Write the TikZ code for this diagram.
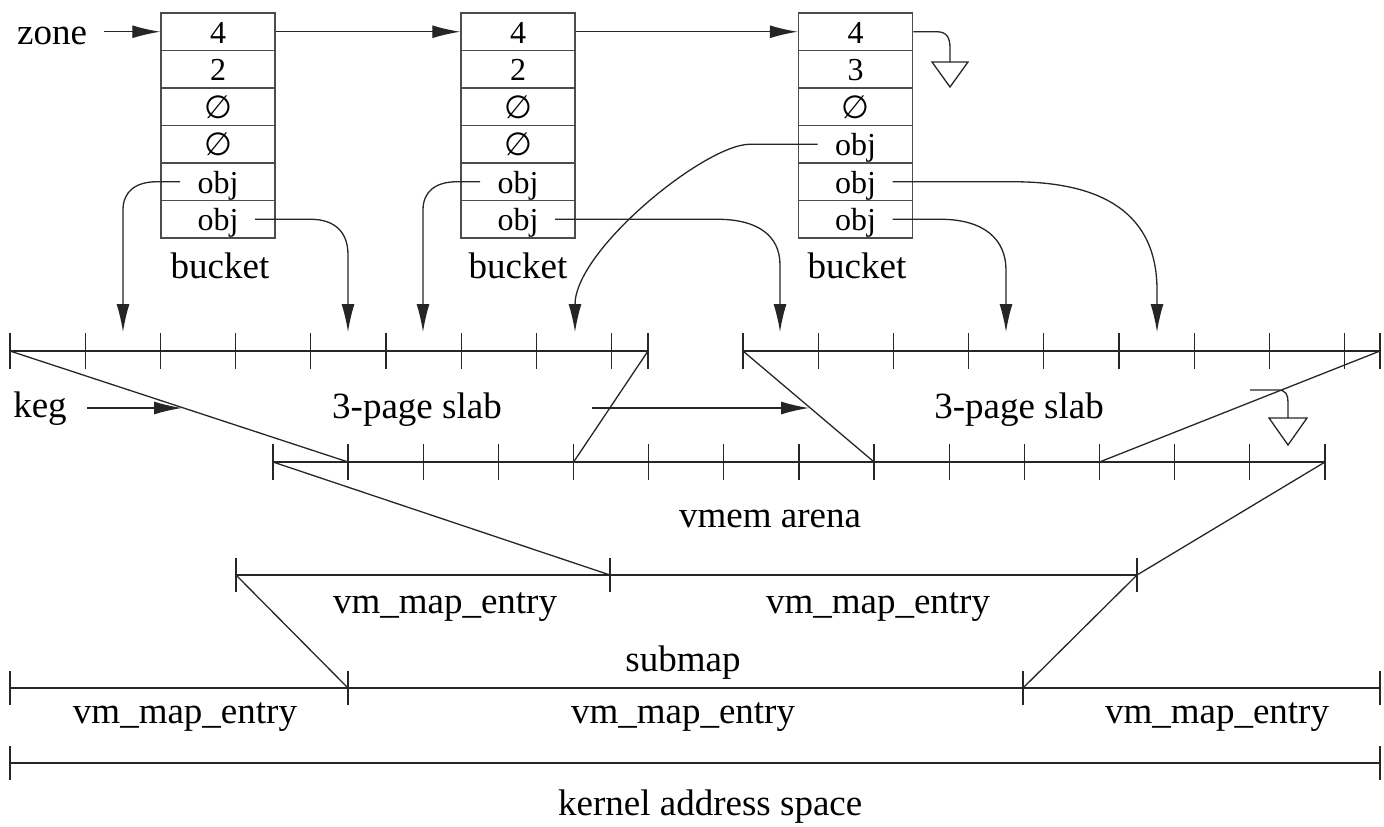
\documentclass[tikz,border=0pt]{standalone}
\usepackage{fontspec}
\setmainfont{Liberation Serif}
\newfontfamily\symfont{DejaVu Sans}
\usetikzlibrary{arrows.meta}
\newcommand\emptyglyph{{\symfont ∅}}
\begin{document}
\begin{tikzpicture}[x=1pt,y=-1pt,
  line/.style={line width=1.3pt, draw=black!85},
  arr/.style={line, -{Latex[length=28pt,width=13pt]}},
  cell/.style={draw=black!70, line width=1.5pt, minimum width=114pt, minimum height=37.5pt,
    inner sep=0pt, text height=25pt, text depth=2.5pt, font=\fontsize{32}{36}\selectfont},
  lbl/.style={inner sep=0pt, anchor=base, font=\fontsize{37}{44}\selectfont}]
\useasboundingbox (0,0) rectangle (1384,827);

% buckets
\foreach \t [count=\r] in {4,2,\emptyglyph,\emptyglyph,obj,obj}
  \node[cell] (b1r\r) at (218,{13+37.5*(\r-0.5)}) {\t};
\foreach \t [count=\r] in {4,2,\emptyglyph,\emptyglyph,obj,obj}
  \node[cell] (b2r\r) at (518,{13+37.5*(\r-0.5)}) {\t};
\foreach \t [count=\r] in {4,3,\emptyglyph,obj,obj,obj}
  \node[cell] (b3r\r) at (855.5,{13+37.5*(\r-0.5)}) {\t};
\node[lbl] (bl1) at (220,278) {bucket};
\node[lbl] (bl2) at (518,278) {bucket};
\node[lbl] (bl3) at (857,278) {bucket};

\node[lbl] (zone) at (52,44) {zone};
\draw[arr] ([xshift=-56pt]b1r1.west) -- (b1r1.west);
\draw[arr] (b1r1.east) -- (b2r1.west);
\draw[arr] (b2r1.east) -- (b3r1.west);

% null pointer of last bucket
\draw[line] (b3r1.east) -- (937,31.75) .. controls (947,31.75) and (950,38) .. (950,48) -- (950,62);
\draw[line] (932,62) -- (968,62) -- (950,87) -- cycle;

% slab lines
\coordinate (s1a) at (10,351);   \coordinate (s1b) at (648,351);
\coordinate (s2a) at (743,351);  \coordinate (s2b) at (1380,351);
\coordinate (ara) at (273,462);  \coordinate (arb) at (1325,462);
\draw[line] (s1a) -- (s1b);
\draw[line] (s2a) -- (s2b);
\draw[line] (ara) -- (arb);
\foreach \i in {0,...,8} {
  \draw[line] ({10+75.2*\i},333) -- ++(0,36);
  \draw[line] ({743+75.2*\i},333) -- ++(0,36);
}
\draw[line] (648,333) -- ++(0,36);
\draw[line] (1380,333) -- ++(0,36);
\foreach \i in {0,...,14}
  \draw[line] ({273+75.14*\i},444) -- ++(0,36);

\coordinate (a1) at (348.1,462);  \coordinate (a4) at (573.6,462);
\coordinate (a8) at (874.1,462);  \coordinate (a11) at (1099.5,462);
\draw[line] (s1a) -- (a1);
\draw[line] (s1b) -- (a4);
\draw[line] (s2a) -- (a8);
\draw[line] (s2b) -- (a11);

% keg
\node[lbl] (keg) at (40,417) {keg};
\draw[arr] (87,408) -- (182,408);
\draw[arr] (592,408) -- (809,408);
\node[lbl] (slab1) at (417,418) {3-page slab};
\node[lbl] (slab2) at (1019,418) {3-page slab};
\draw[line] (1250,390) -- (1278,390) .. controls (1286,390) and (1288,395) .. (1288,402) -- (1288,418);
\draw[line] (1269,418) -- (1307,418) -- (1288,445) -- cycle;

\node[lbl] (arena) at (770,527) {vmem arena};

% submap
\coordinate (sma) at (236,575); \coordinate (smm) at (610,575); \coordinate (smb) at (1137,575);
\draw[line] (sma) -- (smb);
\foreach \p in {236,610,1137} \draw[line] (\p,558) -- ++(0,34);
\draw[line] (ara) -- (smm);
\draw[line] (arb) -- (smb);
\node[lbl] (vme1) at (445,613) {vm\_map\_entry};
\node[lbl] (vme2) at (878,613) {vm\_map\_entry};
\node[lbl] (submap) at (683,671) {submap};

% kernel map
\coordinate (ka) at (10,688); \coordinate (k1) at (348,688);
\coordinate (k2) at (1023,688); \coordinate (kb) at (1380,688);
\draw[line] (ka) -- (kb);
\foreach \p in {10,348,1023,1380} \draw[line] (\p,671) -- ++(0,34);
\draw[line] (sma) -- (k1);
\draw[line] (smb) -- (k2);
\node[lbl] (vme3) at (185,723) {vm\_map\_entry};
\node[lbl] (vme4) at (683,723) {vm\_map\_entry};
\node[lbl] (vme5) at (1217,723) {vm\_map\_entry};

% kernel address space
\draw[line] (10,763) -- (1380,763);
\foreach \p in {10,1380} \draw[line] (\p,746) -- ++(0,34);
\node[lbl, anchor=base west] (kas) at (558,815) {kernel address space};

% object arrows
\coordinate (t1) at (123,332); \coordinate (t2) at (348,332);
\coordinate (t3) at (423,332); \coordinate (t4) at (780,332);
\coordinate (t5) at (575,332); \coordinate (t6) at (1157,332);
\coordinate (t7) at (1006,332);
\draw[arr] ([xshift=-38pt]b1r5.center) -- (157,181.75) .. controls (135,181.75) and (123,192) .. (123,210) -- (t1);
\draw[arr] ([xshift=37pt]b1r6.center) -- (310,219.25) .. controls (335,219.25) and (348,232) .. (348,255) -- (t2);
\draw[arr] ([xshift=-38pt]b2r5.center) -- (457,181.75) .. controls (435,181.75) and (423,192) .. (423,210) -- (t3);
\draw[arr] ([xshift=37pt]b2r6.center) -- (717,219.25) .. controls (757,219.25) and (780,235) .. (780,265) -- (t4);
\draw[arr] ([xshift=-38pt]b3r4.center) -- (750,144.25) .. controls (705,144.25) and (575,250) .. (t5);
\draw[arr] ([xshift=37pt]b3r5.center) -- (1013,181.75) .. controls (1090,181.75) and (1157,205) .. (1157,290) -- (t6);
\draw[arr] ([xshift=37pt]b3r6.center) -- (940,219.25) .. controls (985,219.25) and (1006,240) .. (1006,270) -- (t7);
\end{tikzpicture}
\end{document}
